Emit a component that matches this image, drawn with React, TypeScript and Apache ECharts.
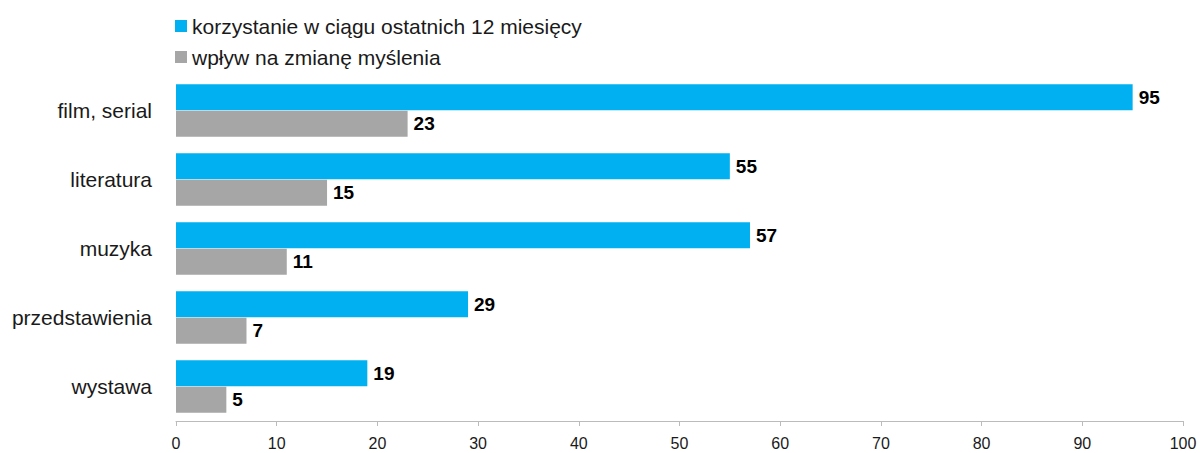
import React, { useEffect, useRef } from "react";
import * as echarts from "echarts";

const categories = ["wystawa", "przedstawienia", "muzyka", "literatura", "film, serial"];
const usageValues = [19, 29, 57, 55, 95];
const influenceValues = [5, 7, 11, 15, 23];
const seriesNames = ["korzystanie w ciągu ostatnich 12 miesięcy", "wpływ na zmianę myślenia"];
const xTicks = [0, 10, 20, 30, 40, 50, 60, 70, 80, 90, 100];

const FONT = "'Liberation Sans', Arial, sans-serif";

export default function App() {
  const ref = useRef<HTMLDivElement>(null);
  useEffect(() => {
    if (!ref.current) return;
    const chart = echarts.init(ref.current, null, { renderer: "svg" });
    const label = {
      show: true,
      position: "right",
      distance: 6,
      color: "#000",
      fontWeight: "bold",
      fontSize: 19,
      fontFamily: FONT,
    };
    chart.setOption({
      animation: false,
      textStyle: { fontFamily: FONT },
      legend: {
        orient: "vertical",
        left: 170,
        top: 10,
        itemWidth: 12,
        itemHeight: 12,
        itemGap: 9,
        icon: "rect",
        textStyle: { fontSize: 21, lineHeight: 22, color: "#1a1a1a", fontFamily: FONT },
        data: seriesNames,
      },
      grid: { left: 176, right: 18, top: 76, bottom: 32, containLabel: false },
      xAxis: {
        type: "value",
        min: xTicks[0],
        max: xTicks[xTicks.length - 1],
        interval: 10,
        splitLine: { show: false },
        axisLine: { show: true, lineStyle: { color: "#BBBBBB", width: 1 } },
        axisTick: { show: true, length: 5, lineStyle: { color: "#BBBBBB" } },
        axisLabel: { fontSize: 16, color: "#1a1a1a", margin: 14, fontFamily: FONT },
      },
      yAxis: {
        type: "category",
        data: categories,
        axisLine: { show: false },
        axisTick: { show: false },
        axisLabel: { fontSize: 21, color: "#1a1a1a", margin: 24, fontFamily: FONT },
      },
      series: [
        {
          name: seriesNames[0],
          type: "bar",
          data: usageValues,
          barWidth: 26,
          barGap: "2%",
          itemStyle: { color: "#00B0F0" },
          label,
        },
        {
          name: seriesNames[1],
          type: "bar",
          data: influenceValues,
          barWidth: 26,
          barGap: "2%",
          itemStyle: { color: "#A6A6A6" },
          label,
        },
      ],
    });
    return () => chart.dispose();
  }, []);
  return (
    <div
      ref={ref}
      style={{ position: "fixed", left: 0, top: 0, width: 1201, height: 453, background: "#fff" }}
    />
  );
}
